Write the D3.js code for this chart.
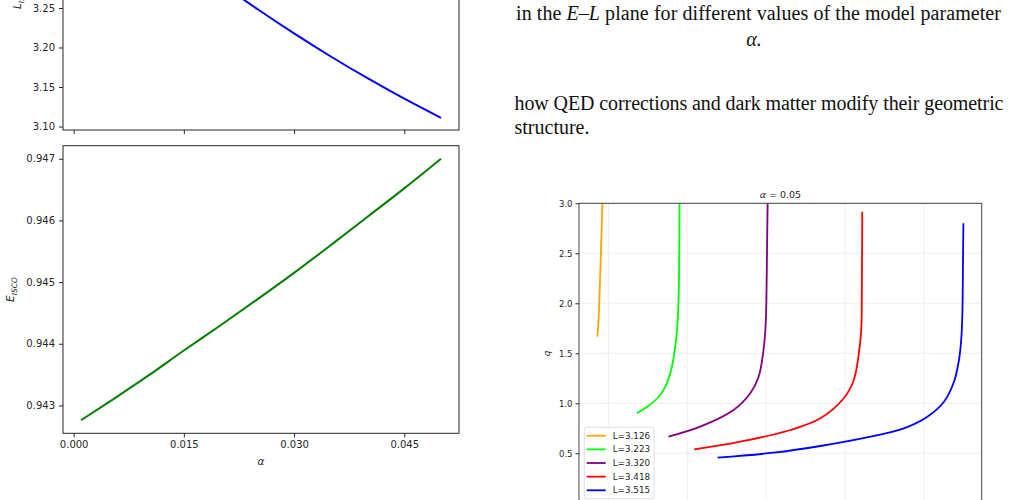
<!DOCTYPE html>
<html><head><meta charset="utf-8">
<script src="https://cdn.jsdelivr.net/npm/d3@7"></script>
<style>
body{margin:0;background:#fff}
svg{display:block}
.ax text{font-family:"DejaVu Sans";fill:#262626}
.ax line{stroke:#262626}
</style>
</head><body>
<svg id="c" width="1010" height="500"></svg>
<script>
// ---------- data: left panels (ISCO quantities vs alpha) ----------
const alpha = [0.001,0.005,0.01,0.015,0.02,0.025,0.03,0.035,0.04,0.045,0.05];
const Lisco = [3.4200,3.3888,3.3513,3.3154,3.2812,3.2487,3.2178,3.1886,3.1611,3.1352,3.1110];
const Eisco = [0.94276,0.94307,0.94347,0.94389,0.94430,0.94472,0.94515,0.94560,0.94606,0.94652,0.94700];
const alphaTicks = [0,0.015,0.030,0.045];
const LTicks = [3.10,3.15,3.20,3.25,3.30,3.35,3.40];
const ETicks = [0.943,0.944,0.945,0.946,0.947];

// ---------- data: right panel (q curves, alpha = 0.05) ----------
const seriesLabels = ["L=3.126","L=3.223","L=3.320","L=3.418","L=3.515"];
const seriesColors = ["#ffa500","#00ff00","#800080","#ff0000","#0000ff"];
const xL3126 = [0.860,0.876,0.895,0.911,0.924];
const qL3126 = [1.666,1.833,2.233,2.633,3.000];
const xL3223 = [1.361,1.504,1.618,1.707,1.771,1.815,1.847,1.872,1.889,1.898,1.902];
const qL3223 = [0.900,0.973,1.048,1.143,1.263,1.403,1.563,1.753,2.003,2.433,3.000];
const xL3320 = [1.762,2.164,2.587,2.799,2.905,2.961,2.990,3.003,3.011,3.019];
const qL3320 = [0.666,0.766,0.933,1.100,1.266,1.500,1.733,2.033,2.533,3.000];
const xL3418 = [2.088,2.672,3.307,3.688,3.984,4.111,4.175,4.205,4.213,4.218];
const qL3418 = [0.540,0.616,0.733,0.850,1.050,1.233,1.500,1.733,2.133,2.916];
const xL3515 = [2.384,3.095,3.688,4.322,4.746,5.043,5.254,5.381,5.444,5.475,5.488,5.495,5.500];
const qL3515 = [0.456,0.506,0.573,0.666,0.750,0.866,1.016,1.216,1.433,1.666,1.933,2.433,2.800];
const qTicks = [0.5,1.0,1.5,2.0,2.5,3.0];
const gridTicks = [1,2,3,4,5];
const panelTitle = "0.05";

// ---------- page text ----------
const captionLine1 = ["in the ", "E", "\u2013", "L", " plane for different values of the model parameter"];
const captionLine2 = "\u03b1.";
const bodyLine1 = "how QED corrections and dark matter modify their geometric";
const bodyLine2 = "structure.";

const svg = d3.select("#c");
svg.append("rect").attr("width",1010).attr("height",500).attr("fill","#fff");

function pad(ext){const r=ext[1]-ext[0];return [ext[0]-0.05*r, ext[1]+0.05*r];}

// ===== left panels =====
const xL = d3.scaleLinear().domain(pad(d3.extent(alpha))).range([63,459]);

function leftPanel(vals, top, bottom, ticks, fmt, showX){
  const y = d3.scaleLinear().domain(pad(d3.extent(vals))).range([bottom, top]);
  const g = svg.append("g");
  const yAx = g.append("g").attr("class","ax").attr("transform","translate(63,0)")
    .call(d3.axisLeft(y).tickValues(ticks).tickFormat(d3.format(fmt)).tickSize(4).tickPadding(4));
  yAx.select(".domain").remove();
  yAx.selectAll("text").style("font-size","10px");
  const xAx = g.append("g").attr("class","ax").attr("transform",`translate(0,${bottom})`)
    .call(d3.axisBottom(xL).tickValues(alphaTicks).tickFormat(d3.format(".3f")).tickSize(4).tickPadding(4));
  xAx.select(".domain").remove();
  xAx.selectAll("text").style("font-size","10px");
  if(!showX) xAx.selectAll("text").remove();
  g.append("path").datum(alpha.map((a,i)=>[a,vals[i]]))
    .attr("fill","none")
    .attr("d", d3.line().x(d=>xL(d[0])).y(d=>y(d[1])).curve(d3.curveMonotoneX));
  g.append("rect").attr("x",63).attr("y",top).attr("width",396).attr("height",bottom-top)
    .attr("fill","none").attr("stroke","#262626").attr("stroke-width",1);
  return g;
}
const gTop = leftPanel(Lisco, -138.5, 130, LTicks, ".2f", false);
gTop.select("path").attr("stroke","#0000ff").attr("stroke-width",2);
const gBot = leftPanel(Eisco, 145.7, 433.3, ETicks, ".3f", true);
gBot.select("path").attr("stroke","#008000").attr("stroke-width",2);

function isoLabel(g, sym, x, y){
  const t = g.append("text").attr("transform",`translate(${x},${y}) rotate(-90)`)
    .attr("text-anchor","middle").attr("font-family","DejaVu Sans").attr("fill","#262626")
    .attr("font-size","10.5px");
  t.append("tspan").attr("font-style","italic").text(sym);
  t.append("tspan").attr("font-style","italic").attr("font-size","7.5px").attr("dy",2.5).text("ISCO");
}
isoLabel(svg, "L", 21, -3);
isoLabel(svg, "E", 14, 289.5);
svg.append("text").attr("x",261).attr("y",465).attr("text-anchor","middle")
  .attr("font-family","DejaVu Sans").attr("font-style","italic").attr("font-size","10.5px")
  .attr("fill","#262626").text("\u03b1");

// ===== right text =====
const serif = "Liberation Serif";
const t1 = svg.append("text").attr("x",516).attr("y",19.5).attr("font-family",serif)
  .attr("font-size","20px").attr("fill","#111")
  .attr("textLength",485).attr("lengthAdjust","spacing");
captionLine1.forEach((s,i)=>{ const sp=t1.append("tspan").text(s); if(s==="E"||s==="L") sp.attr("font-style","italic"); });
svg.append("text").attr("x",754).attr("y",46).attr("text-anchor","middle").attr("font-family",serif)
  .attr("font-size","20px").attr("fill","#111").attr("font-style","italic").text(captionLine2);
svg.append("text").attr("x",514.5).attr("y",110).attr("font-family",serif)
  .attr("font-size","20px").attr("fill","#111")
  .attr("textLength",489).attr("lengthAdjust","spacing").text(bodyLine1);
svg.append("text").attr("x",514.5).attr("y",133.5).attr("font-family",serif)
  .attr("font-size","20px").attr("fill","#111").text(bodyLine2);

// ===== right panel =====
const series = [[xL3126,qL3126],[xL3223,qL3223],[xL3320,qL3320],[xL3418,qL3418],[xL3515,qL3515]];
const allX = series.flatMap(s=>s[0]);
const R = {l:579, r:981.7, t:203.3, b:503.3};
const xr = d3.scaleLinear().domain(pad(d3.extent(allX))).range([R.l,R.r]);
const yr = d3.scaleLinear().domain([0,3]).range([R.b,R.t]);
const gr = svg.append("g");
gr.append("g").selectAll("line").data(gridTicks).join("line")
  .attr("x1",d=>xr(d)).attr("x2",d=>xr(d)).attr("y1",R.t).attr("y2",R.b)
  .attr("stroke","#ebebeb").attr("stroke-width",0.8);
gr.append("g").selectAll("line").data(qTicks).join("line")
  .attr("x1",R.l).attr("x2",R.r).attr("y1",d=>yr(d)).attr("y2",d=>yr(d))
  .attr("stroke","#ebebeb").attr("stroke-width",0.8);
const yAxR = gr.append("g").attr("class","ax").attr("transform",`translate(${R.l},0)`)
  .call(d3.axisLeft(yr).tickValues(qTicks).tickFormat(d3.format(".1f")).tickSize(3.5).tickPadding(3));
yAxR.select(".domain").remove();
yAxR.selectAll("text").style("font-size","8.5px");
const lineR = d3.line().x(d=>xr(d[0])).y(d=>yr(d[1])).curve(d3.curveCatmullRom.alpha(0.5));
series.forEach((s,i)=>{
  gr.append("path").datum(s[0].map((x,j)=>[x,s[1][j]]))
    .attr("fill","none").attr("stroke",seriesColors[i]).attr("stroke-width",1.8)
    .attr("stroke-linejoin","round").attr("d",lineR);
});
gr.append("rect").attr("x",R.l).attr("y",R.t).attr("width",R.r-R.l).attr("height",R.b-R.t)
  .attr("fill","none").attr("stroke","#444").attr("stroke-width",1);
const tt = gr.append("text").attr("x",(R.l+R.r)/2).attr("y",198).attr("text-anchor","middle")
  .attr("font-family","DejaVu Sans").attr("font-size","9.5px").attr("fill","#262626");
tt.append("tspan").attr("font-style","italic").text("\u03b1");
tt.append("tspan").text(" = " + panelTitle);
gr.append("text").attr("transform",`translate(550,${(R.t+R.b)/2}) rotate(-90)`)
  .attr("text-anchor","middle").attr("font-family","DejaVu Sans").attr("font-style","italic")
  .attr("font-size","9px").attr("fill","#262626").text("q");
// legend
const lg = gr.append("g");
lg.append("rect").attr("x",584.3).attr("y",427.3).attr("width",69.7).attr("height",71.5).attr("rx",2.5)
  .attr("fill","#fff").attr("fill-opacity",0.85).attr("stroke","#d5d5d5").attr("stroke-width",0.8);
seriesLabels.forEach((lab,i)=>{
  const yy = 435.7 + i*13.65;
  lg.append("line").attr("x1",586.7).attr("x2",605.7).attr("y1",yy).attr("y2",yy)
    .attr("stroke",seriesColors[i]).attr("stroke-width",1.8);
  lg.append("text").attr("x",612.7).attr("y",yy).attr("dy","0.35em")
    .attr("font-family","DejaVu Sans").attr("font-size","8.8px").attr("fill","#262626").text(lab);
});
</script>
</body></html>
